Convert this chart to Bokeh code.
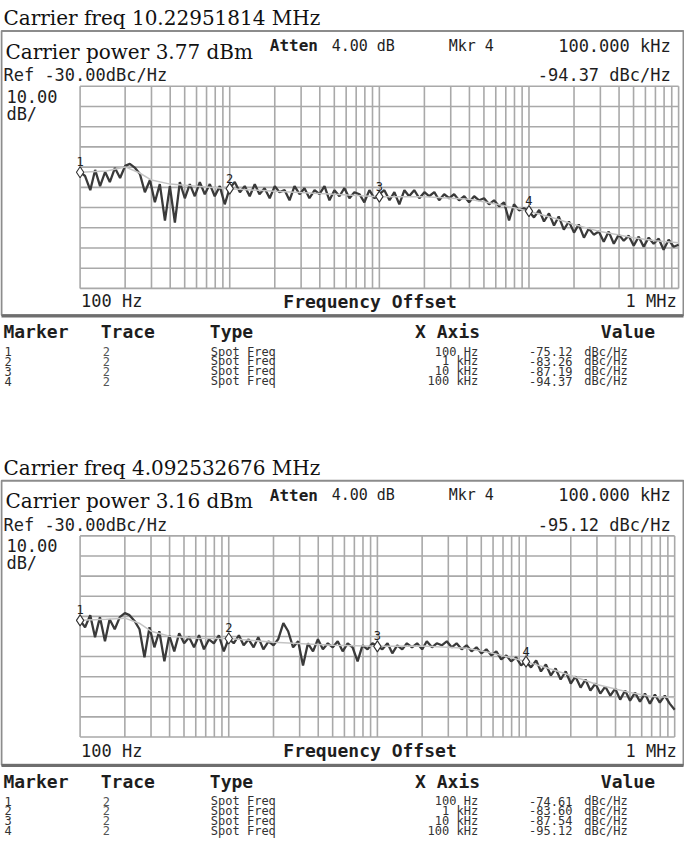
from bokeh.plotting import figure
from bokeh.models import Range1d, LogScale
from bokeh.core.properties import value
from bokeh.embed import file_html
from bokeh.resources import INLINE

# ---------------- data ----------------
FREQ_HZ = [
    100, 108, 117, 126, 136, 147, 158, 171, 185, 200, 215, 233, 251, 271, 293,
    316, 341, 369, 398, 430, 464, 501, 541, 584, 631, 681, 736, 794, 858, 926,
    1000, 1080, 1170, 1260, 1360, 1470, 1580, 1710, 1850, 2000, 2150, 2330, 2510, 2710, 2930,
    3160, 3410, 3690, 3980, 4300, 4640, 5010, 5410, 5840, 6310, 6810, 7360, 7940, 8580, 9260,
    10000, 10800, 11700, 12600, 13600, 14700, 15800, 17100, 18500, 20000, 21500, 23300, 25100, 27100, 29300,
    31600, 34100, 36900, 39800, 43000, 46400, 50100, 54100, 58400, 63100, 68100, 73600, 79400, 85800, 92600,
    100000, 108000, 117000, 126000, 136000, 147000, 158000, 171000, 185000, 200000, 215000, 233000, 251000, 271000, 293000,
    316000, 341000, 369000, 398000, 430000, 464000, 501000, 541000, 584000, 631000, 681000, 736000, 794000, 858000, 926000,
    1000000,
]

TRACE_1 = [
    -75.1, -77, -84, -74, -82, -75, -80, -73, -78, -72, -71, -73, -76, -85, -79,
    -90, -81, -99, -82, -100, -80, -88, -81, -87, -80, -86, -81, -87, -82, -91,
    -83, -80, -85, -82, -87, -81, -86, -83, -88, -82, -85, -84, -89, -82, -86,
    -83, -88, -84, -86, -82, -89, -84, -87, -83, -88, -85, -86, -90, -84, -88,
    -86, -84, -89, -85, -91, -84, -87, -84, -88, -85, -87, -85, -89, -86, -88,
    -86, -89, -87, -90, -87, -89, -88, -91, -89, -92, -90, -99, -91, -94, -93,
    -94.4, -97.5, -93.8, -99.5, -95.5, -101.5, -97, -103.5, -99.5, -105, -101, -107.5, -103, -106, -104.5,
    -109.5, -104.5, -110.5, -106, -109, -106.5, -111.5, -107, -112, -107.5, -110.5, -108, -113.5, -108.5, -112,
    -111,
]

TRACE_2 = [
    -74.6, -78, -72, -83, -73, -85, -74, -79, -73, -71, -72, -75, -79, -93, -78,
    -88, -80, -95, -82, -90, -81, -86, -83, -88, -82, -89, -84, -86, -82, -90,
    -83.6, -86, -82, -87, -84, -88, -83, -89, -85, -87, -84, -76, -80, -88, -85,
    -97, -86, -90, -84, -89, -86, -88, -85, -90, -86, -88, -95, -87, -89, -86,
    -87.5, -89, -86, -91, -87, -89, -86, -88, -86, -89, -85, -88, -86, -87, -85,
    -88, -86, -89, -87, -90, -88, -91, -89, -92, -90, -94, -92, -95, -93, -97,
    -95.1, -98, -94.5, -100, -96.5, -102, -98.5, -104, -100, -106, -102.5, -108, -104, -109.5, -106,
    -111, -107.5, -112, -108.5, -114, -109.5, -114.5, -110.5, -115, -111, -116, -111.5, -115.5, -112, -116,
    -119,
]

SMOOTH_HZ = [100, 150, 200, 250, 300, 400, 600, 1000, 2000, 5000, 10000, 20000,
             40000, 60000, 100000, 150000, 200000, 300000, 500000, 700000, 1000000]
SMOOTH_1 = [-75.1, -74.5, -72.5, -75.5, -79, -81, -82, -83.3, -84.5, -86, -87.2, -87.3,
            -88.5, -90.8, -94.4, -98, -101, -104.5, -107.5, -109, -110]
SMOOTH_2 = [-74.6, -74, -73.5, -76, -80, -82.5, -83.5, -83.6, -85.5, -87, -87.5, -87.3,
            -88.5, -91, -95.1, -99, -102, -106.5, -110.5, -112.5, -113]

MARKER_NO = ["1", "2", "3", "4"]
MARKER_HZ = [100, 1000, 10000, 100000]
MARKER_1 = [-75.12, -83.26, -87.19, -94.37]
MARKER_2 = [-74.61, -83.60, -87.54, -95.12]
MARKER_X_LABEL = ["100 Hz", "1 kHz", "10 kHz", "100 kHz"]
MARKER_TRACE = ["2", "2", "2", "2"]

PANELS = [
    dict(title="Carrier freq 10.22951814 MHz", power="Carrier power 3.77 dBm",
         mkr_val="-94.37 dBc/Hz", trace=TRACE_1, smooth=SMOOTH_1, marks=MARKER_1),
    dict(title="Carrier freq 4.092532676 MHz", power="Carrier power 3.16 dBm",
         mkr_val="-95.12 dBc/Hz", trace=TRACE_2, smooth=SMOOTH_2, marks=MARKER_2),
]

# ---------------- canvas (reference pixel coordinates) ----------------
W, H = 684, 844
X0, X1 = 2, 698
YB, YT = 858, 2

p = figure(width=W, height=H, x_range=Range1d(X0, X1), y_range=Range1d(YB, YT),
           output_backend="svg", toolbar_location=None, min_border=0,
           x_axis_location=None, y_axis_location=None)
p.xgrid.visible = False
p.ygrid.visible = False
p.outline_line_color = None
p.background_fill_color = "white"
p.border_fill_color = "white"

MONO = value("DejaVu Sans Mono")
SERIF = value("DejaVu Serif")
GRID = "#a9a9a9"
INK = "#1e1e1e"


def txt(x, y, s, size, font=MONO, align="left", baseline="middle", bold=False, color=INK):
    p.text(x=[x], y=[y], text=[s], text_font=font, text_font_size=size,
           text_align=align, text_baseline=baseline,
           text_font_style="bold" if bold else "normal", text_color=color)


for i, pn in enumerate(PANELS):
    oy = 456 * i
    a, b = 83, (692 if i == 0 else 688)
    t, u = 89 + oy, 294 + oy - (1 if i else 0)
    dbtop = -32.6

    # title and frame
    txt(5, 20 + oy, pn["title"], "20px", font=SERIF, baseline="alphabetic", color="#111")
    p.quad(left=[3], right=[697], top=[33 + oy], bottom=[321 + oy],
           fill_color=None, line_color="#8c8c8c", line_width=2)
    p.segment(x0=[3], x1=[697], y0=[322 + oy], y1=[322 + oy], line_color="#6e6e6e", line_width=3)

    # header texts
    txt(7, 54 + oy, pn["power"], "20px", font=SERIF, baseline="alphabetic", color="#111")
    txt(276, 48 + oy, "Atten", "16px", bold=True)
    txt(339, 48 + oy, "4.00 dB", "15px")
    txt(458, 48 + oy, "Mkr 4", "15px")
    txt(684, 48 + oy, "100.000 kHz", "17px", align="right")
    txt(5, 78 + oy, "Ref -30.00dBc/Hz", "17px")
    txt(684, 78 + oy, pn["mkr_val"], "17px", align="right")
    txt(8, 99 + oy, "10.00", "17px")
    txt(8, 117 + oy, "dB/", "17px")

    # spectrum ranges mapped onto the plot area
    name = f"spec{i}"
    ppd = (b - a) / 4.0
    p.extra_x_ranges[name] = Range1d(10 ** (2 - (a - X0) / ppd), 10 ** (6 + (X1 - b) / ppd))
    p.extra_x_scales[name] = LogScale()
    pxdb = (u - t) / 100.0
    p.extra_y_ranges[name] = Range1d(dbtop - (YB - t) / pxdb, dbtop + (t - YT) / pxdb)
    kw = dict(x_range_name=name, y_range_name=name)

    gx = [m * d for d in (100, 1000, 10000, 100000) for m in range(1, 10)] + [1000000]
    p.segment(x0=gx, x1=gx, y0=[dbtop - 100] * len(gx), y1=[dbtop] * len(gx),
              line_color=GRID, line_width=1.6, **kw)
    gy = [dbtop - 10 * k for k in range(11)]
    p.segment(x0=[100] * len(gy), x1=[1000000] * len(gy), y0=gy, y1=gy,
              line_color=GRID, line_width=1.6, **kw)

    p.line(FREQ_HZ, pn["trace"], line_color="#3a3a3a", line_width=2.3, **kw)
    p.line(SMOOTH_HZ, pn["smooth"], line_color="#c4c4c4", line_width=1.5, **kw)
    p.scatter(MARKER_HZ, pn["marks"], marker="diamond", size=11, fill_color="white",
              line_color="#333333", line_width=1.1, **kw)
    p.text(MARKER_HZ, pn["marks"], text=MARKER_NO, text_font=MONO, text_font_size="12px",
           text_align="center", text_baseline="bottom", y_offset=-6, text_color="#222", **kw)

    # bottom axis texts
    txt(84, 307 + oy, "100 Hz", "17px")
    txt(378, 307 + oy, "Frequency Offset", "18px", align="center", bold=True)
    txt(690, 307 + oy, "1 MHz", "17px", align="right")

    # marker table
    hy = 338 + oy
    txt(5, hy, "Marker", "18px", bold=True)
    txt(104, hy, "Trace", "18px", bold=True)
    txt(215, hy, "Type", "18px", bold=True)
    txt(490, hy, "X Axis", "18px", align="right", bold=True)
    txt(668, hy, "Value", "18px", align="right", bold=True)
    for r in range(4):
        ry = 358 + oy + 10 * r
        txt(6, ry, MARKER_NO[r], "12px", color="#333")
        txt(106, ry, MARKER_TRACE[r], "12px", color="#555")
        txt(216, ry, "Spot Freq", "12px", color="#333")
        txt(488, ry, MARKER_X_LABEL[r], "12px", align="right", color="#333")
        txt(584, ry, f"{pn['marks'][r]:.2f}", "12px", align="right", color="#333")
        txt(596, ry, "dBc/Hz", "12px", color="#333")

open("out.html", "w").write(file_html(p, INLINE))
